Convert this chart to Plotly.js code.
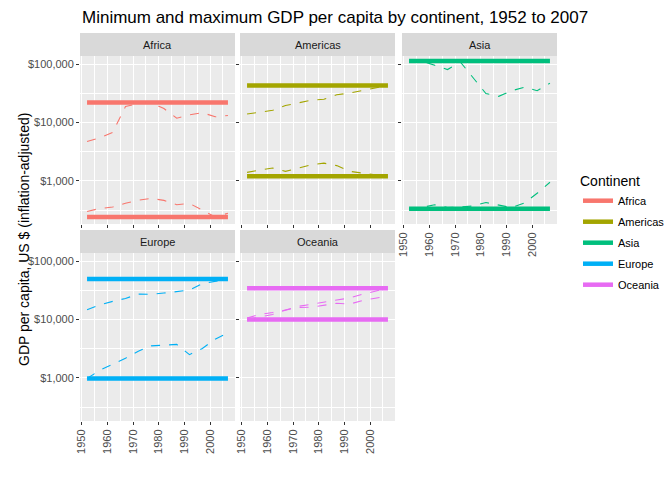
<!DOCTYPE html>
<html>
<head>
<meta charset="utf-8">
<script src="https://cdn.plot.ly/plotly-3.0.1.min.js"></script>
<style>body{margin:0}</style>
</head>
<body>
<div id="chart" style="width:672px;height:480px"></div>
<script>
var years = [1952, 1957, 1962, 1967, 1972, 1977, 1982, 1987, 1992, 1997, 2002, 2007];
var continents = ["Africa", "Americas", "Asia", "Europe", "Oceania"];
var colors = ["#F8766D", "#A3A500", "#00BF7D", "#00B0F6", "#E76BF3"];

var africaMax = [4725, 5487, 6757, 18773, 21011, 21951, 17364, 11864, 13522, 14723, 12521, 13206];
var africaMin = [299, 336, 355, 413, 464, 502, 462, 389, 410, 312, 241, 278];
var americasMax = [13990, 14847, 16173, 19530, 21806, 24073, 25010, 29884, 32004, 35767, 39097, 42952];
var americasMin = [1398, 1544, 1662, 1452, 1654, 1874, 2011, 1823, 1456, 1341, 1270, 1202];
var asiaMax = [108382, 113523, 95458, 80895, 109348, 59265, 31354, 28118, 34933, 40301, 35110, 47307];
var asiaMin = [331, 350, 388, 349, 357, 371, 424, 385, 347, 415, 611, 944];
var europeMax = [14734, 17909, 20431, 22966, 27195, 26982, 28398, 30282, 31872, 41283, 44684, 49357];
var europeMin = [974, 1354, 1710, 2172, 2860, 3528, 3630, 3739, 2497, 3193, 4604, 5937];
var oceaniaMax = [10557, 12247, 13176, 14526, 16789, 18334, 19477, 21889, 23425, 26998, 30688, 34435];
var oceaniaMin = [10040, 10950, 12217, 14464, 16046, 16234, 17632, 19007, 18363, 21050, 23190, 25185];

var maxes = [africaMax, americasMax, asiaMax, europeMax, oceaniaMax];
var mins = [africaMin, americasMin, asiaMin, europeMin, oceaniaMin];

var W = 672, H = 480;
var colLeft = [80, 240, 402], panelW = 155;
var rowTop = [56, 253], panelH = 168, stripH = 23;

var data = [];
var layout = {
    width: W, height: H,
    margin: {l: 0, r: 0, t: 0, b: 0},
    paper_bgcolor: "white",
    plot_bgcolor: "#EBEBEB",
    font: {family: "Liberation Sans, Arial, sans-serif", color: "#4D4D4D"},
    showlegend: true,
    legend: {x: 578 / W, y: 1 - 168 / H, xanchor: "left", yanchor: "top",
        title: {text: "Continent", font: {size: 14, color: "black"}},
        font: {size: 11, color: "black"}, tracegroupgap: 2},
    shapes: [], annotations: []
};

for (let i = 0; i < 5; i++) {
    let col = i % 3, row = Math.floor(i / 3);
    let sfx = i == 0 ? "" : String(i + 1);
    let l = colLeft[col], t = rowTop[row];
    let showX = (row == 1) || (i == 2);
    layout["xaxis" + sfx] = {
        domain: [l / W, (l + panelW) / W], anchor: "y" + sfx,
        range: [1949.25, 2009.75], tickmode: "array", tickvals: [1950, 1960, 1970, 1980, 1990, 2000],
        showticklabels: showX, tickangle: -90, tickfont: {size: 11, color: "#4D4D4D"},
        ticks: "outside", ticklen: 3, tickcolor: "#333",
        gridcolor: "white", gridwidth: 1.1, zeroline: false, showline: false,
        minor: {tickmode: "array", tickvals: [1955, 1965, 1975, 1985, 1995, 2005], showgrid: true, gridcolor: "white", gridwidth: 0.5}
    };
    layout["yaxis" + sfx] = {
        domain: [1 - (t + panelH) / H, 1 - t / H], anchor: "x" + sfx,
        type: "log", range: [2.26, 5.14],
        tickmode: "array", tickvals: [1000, 10000, 100000], ticktext: ["$1,000", "$10,000", "$100,000"],
        showticklabels: col == 0, tickfont: {size: 11, color: "#4D4D4D"},
        ticks: "outside", ticklen: 3, tickcolor: "#333",
        gridcolor: "white", gridwidth: 1.1, zeroline: false, showline: false,
        minor: {tickmode: "array", tickvals: [316.2, 3162, 31623], showgrid: true, gridcolor: "white", gridwidth: 0.5}
    };
    layout.shapes.push({type: "rect", xref: "paper", yref: "paper",
        x0: l / W, x1: (l + panelW) / W, y0: 1 - t / H, y1: 1 - (t - stripH) / H,
        fillcolor: "#D9D9D9", line: {width: 0}});
    layout.annotations.push({xref: "paper", yref: "paper", x: (l + panelW / 2) / W, y: 1 - (t - stripH / 2) / H,
        xanchor: "center", yanchor: "middle",
        text: continents[i], showarrow: false, font: {size: 11, color: "#1A1A1A"}});

    let xa = "x" + sfx, ya = "y" + sfx;
    let hi = Math.max.apply(null, maxes[i]), lo = Math.min.apply(null, mins[i]);
    data.push({x: years, y: maxes[i], xaxis: xa, yaxis: ya, mode: "lines", showlegend: false,
        line: {color: colors[i], width: 1.1, dash: "dash"}, hoverinfo: "skip"});
    data.push({x: years, y: mins[i], xaxis: xa, yaxis: ya, mode: "lines", showlegend: false,
        line: {color: colors[i], width: 1.1, dash: "dash"}, hoverinfo: "skip"});
    data.push({x: [years[0], years[years.length - 1]], y: [hi, hi], xaxis: xa, yaxis: ya, mode: "lines",
        name: continents[i], legendgroup: continents[i], showlegend: true,
        line: {color: colors[i], width: 4.5}});
    data.push({x: [years[0], years[years.length - 1]], y: [lo, lo], xaxis: xa, yaxis: ya, mode: "lines",
        legendgroup: continents[i], showlegend: false,
        line: {color: colors[i], width: 4.5}});
}

layout.annotations.push({xref: "paper", yref: "paper", x: 80 / W, y: 1 - 18 / H, xanchor: "left", yanchor: "middle",
    text: "Minimum and maximum GDP per capita by continent, 1952 to 2007", showarrow: false,
    font: {size: 17, color: "black"}});
layout.annotations.push({xref: "paper", yref: "paper", x: 14 / W, y: 1 - 240 / H, textangle: -90,
    text: "GDP per capita, US $ (inflation-adjusted)", showarrow: false,
    font: {size: 14, color: "black"}});

Plotly.newPlot("chart", data, layout, {displayModeBar: false});
</script>
</body>
</html>
